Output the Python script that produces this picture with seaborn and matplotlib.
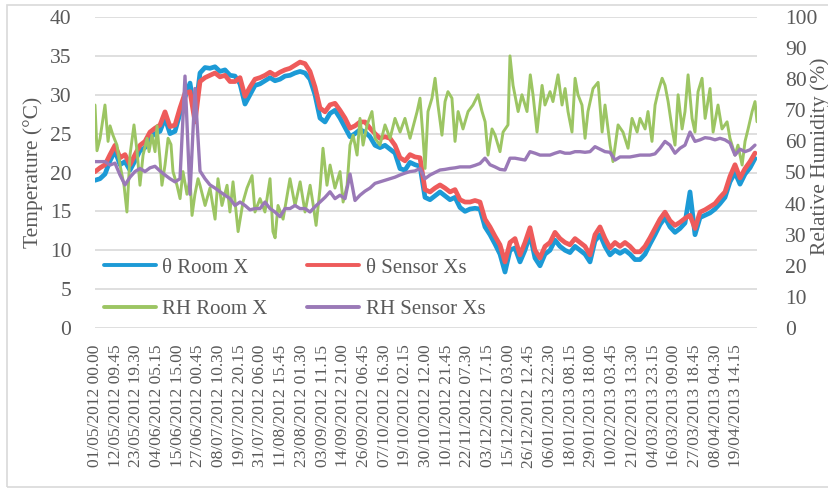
import numpy as np
import pandas as pd
import matplotlib
matplotlib.use("Agg")
import matplotlib.pyplot as plt
import seaborn as sns
from matplotlib.lines import Line2D
from matplotlib.patches import Rectangle

# ---------------- data ----------------
tick_labels = [
    "01/05/2012 00.00", "12/05/2012 09.45", "23/05/2012 19.30", "04/06/2012 05.15",
    "15/06/2012 15.00", "27/06/2012 00.45", "08/07/2012 10.30", "19/07/2012 20.15",
    "31/07/2012 06.00", "11/08/2012 15.45", "23/08/2012 01.30", "03/09/2012 11.15",
    "14/09/2012 21.00", "26/09/2012 06.45", "07/10/2012 16.30", "19/10/2012 02.15",
    "30/10/2012 12.00", "10/11/2012 21.45", "22/11/2012 07.30", "03/12/2012 17.15",
    "15/12/2012 03.00", "26/12/2012 12.45", "06/01/2013 22.30", "18/01/2013 08.15",
    "29/01/2013 18.00", "10/02/2013 03.45", "21/02/2013 13.30", "04/03/2013 23.15",
    "16/03/2013 09.00", "27/03/2013 18.45", "08/04/2013 04.30", "19/04/2013 14.15",
]

# sample times: days since 01/05/2012 00.00 (one reading every ~2.76 days)
days = np.arange(133) * 2.7568

theta_room = [
    19.0, 19.2, 19.8, 21.5, 22.8, 21.0, 21.4, 20.3, 21.5, 22.8,
    23.2, 24.5, 25.0, 25.3, 27.0, 25.0, 25.3, 27.6, 29.7, 31.5,
    27.5, 32.8, 33.5, 33.4, 33.6, 33.0, 33.2, 32.5, 32.4, 31.4,
    28.8, 30.0, 31.2, 31.4, 31.8, 32.2, 31.8, 32.0, 32.4, 32.5,
    32.8, 33.0, 32.8, 32.0, 30.0, 27.0, 26.5, 27.6, 28.0, 27.0,
    25.8, 24.6, 25.0, 25.5, 25.2, 24.6, 23.5, 23.2, 23.5, 23.0,
    22.5, 20.5, 20.3, 21.3, 21.0, 20.8, 16.8, 16.5, 17.0, 17.5,
    17.0, 16.5, 16.8, 15.5, 15.0, 15.3, 15.4, 15.3, 13.0, 12.0,
    10.8, 9.5, 7.2, 10.0, 10.3, 8.5, 10.0, 12.0, 9.0, 8.0,
    9.5, 10.0, 11.3, 10.5, 10.0, 9.7, 10.5, 10.0, 9.5, 8.5,
    11.2, 12.0, 10.5, 9.4, 10.0, 9.6, 10.0, 9.5, 8.8, 8.8,
    9.5, 10.8, 12.0, 13.3, 14.2, 13.0, 12.3, 12.8, 13.5, 17.5,
    12.0, 14.2, 14.5, 14.8, 15.3, 16.0, 16.8, 18.8, 20.0, 18.5,
    19.8, 20.6, 21.8,
]

theta_sensor = [
    20.1, 20.6, 21.0, 22.3, 23.5, 21.9, 22.3, 21.0, 22.3, 23.5,
    24.0, 25.2, 25.7, 26.1, 27.8, 25.9, 26.1, 28.3, 30.2, 30.4,
    26.5, 31.7, 32.2, 32.5, 32.8, 32.3, 32.5, 31.7, 31.7, 32.2,
    29.8, 31.0, 32.0, 32.2, 32.5, 32.9, 32.5, 32.9, 33.2, 33.4,
    33.8, 34.2, 34.0, 33.0, 31.0, 28.3, 27.8, 28.7, 28.9, 28.0,
    27.0, 25.7, 26.0, 26.5, 26.5, 25.7, 25.0, 24.4, 24.6, 24.4,
    23.5, 21.9, 21.5, 22.3, 22.0, 21.9, 17.8, 17.5, 18.0, 18.4,
    18.0, 17.5, 17.8, 16.5, 16.2, 16.2, 16.4, 16.2, 14.0, 13.0,
    11.8, 10.7, 8.5, 11.0, 11.5, 9.4, 11.0, 12.9, 10.0, 9.0,
    10.5, 11.0, 12.3, 11.5, 11.0, 10.7, 11.5, 11.0, 10.5, 9.4,
    12.0, 13.0, 11.5, 10.3, 11.0, 10.5, 11.0, 10.5, 9.8, 9.8,
    10.5, 11.6, 12.8, 14.0, 14.9, 13.8, 13.2, 13.6, 14.1, 14.5,
    12.8, 14.9, 15.2, 15.6, 16.0, 16.8, 17.5, 19.5, 21.0, 19.3,
    20.5, 21.4, 22.5,
]

rh_sensor = [
    53.5, 53.5, 53.5, 52.4, 53, 49.2, 46, 48.5, 50.3, 51.3,
    50.3, 51.5, 52, 50.5, 49.2, 48, 47, 48, 81, 43,
    77, 50.5, 48, 46, 45, 43.8, 42.7, 41.6, 39.4, 40.5,
    39.4, 38, 38.4, 38.4, 40.5, 38.4, 37.3, 35.8, 38.4, 38.4,
    39.4, 38.4, 38.4, 37.3, 39, 40.5, 42, 43.8, 41.6, 42.7,
    41.6, 49.5, 41, 42.7, 44, 45, 46.5, 47, 47.5, 48,
    48.5, 49.2, 49.8, 50.3, 50.5, 51.3, 48, 49.2, 50, 50.8,
    51, 51.3, 51.5, 51.8, 51.8, 51.8, 52.3, 52.9, 54.6, 52.5,
    51.8, 51, 50.8, 54.6, 54.6, 54.3, 54, 56.7, 56.2, 55.6,
    55.6, 55.6, 56.2, 56.7, 56.2, 56.2, 56.7, 56.7, 56.5, 56.7,
    58.3, 57.5, 56.7, 56.5, 54, 55, 55, 55, 55.3, 55.6,
    55.6, 55.6, 56, 57.8, 60, 58.8, 56.2, 57.8, 58.8, 63,
    60, 60.5, 61.2, 61, 60.5, 61, 60.5, 59.5, 55.6, 57.5,
    56.7, 57.3, 58.8,
]

# RH Room X: read at its own (denser) sample times, days since start
rh_room_days = [
    0.0, 1.1, 2.8, 5.5, 7.2, 8.3, 9.9, 12.1, 13.8, 16.0, 17.6, 19.3, 21.5, 23.2,
    24.8, 26.5, 28.7, 29.8, 31.4, 33.1, 34.2, 35.8, 36.9, 38.6, 40.3, 41.9, 43.0,
    45.2, 46.9, 48.5, 50.7, 52.4, 53.5, 55.1, 56.8,
    57.9, 60.7, 63.4, 66.2, 67.8, 70.0, 72.8, 74.4, 76.1, 78.9, 81.6, 83.8, 86.6,
    88.2, 91.0, 93.7, 96.5, 98.1, 99.3, 100.9, 103.7, 107.5, 110.3, 113.1, 115.8,
    118.6,
    120.2, 121.9, 124.1, 125.7, 127.9, 129.6, 132.3, 135.1, 136.8, 139.0, 140.6,
    142.3, 144.5, 146.1, 147.8, 150.0, 152.7, 154.4, 157.1, 159.9, 162.7, 165.4,
    168.2, 170.9, 173.7, 177.6, 179.2,
    180.9, 182.0, 183.6, 185.8, 187.5, 189.1, 191.3, 193.0, 194.6, 196.8, 198.5,
    200.2, 202.9, 205.7, 208.4, 211.2, 213.4, 215.1, 216.7, 218.9, 220.6, 223.3,
    225.0, 227.7, 228.8, 230.5, 233.3, 235.4, 238.2, 240.0,
    241.5, 243.7, 246.5, 248.1, 250.9, 252.5, 255.3, 257.5, 259.2, 260.8, 263.0,
    264.7, 266.3, 268.5, 270.2, 271.8, 274.6, 277.4, 279.6, 281.2, 284.0, 285.6,
    288.4, 291.1, 293.9, 296.1, 298.9,
    300.5, 303.3, 304.9, 307.1, 308.8, 310.5, 312.7, 314.3, 316.0, 318.2, 319.8,
    321.5, 323.7, 325.3, 327.0, 329.2, 330.8, 332.5, 334.7, 336.4, 339.1, 340.8,
    343.5, 345.7, 348.5, 350.1, 352.9, 354.5, 356.8, 358.4, 360.1, 362.3, 363.9,
    365.0,
]
rh_room = [
    71.7, 57, 61, 71.7, 60, 65, 62, 58.8, 52.4, 45.9, 37.3, 55.6, 65.3, 56.7,
    45.9, 55.6, 61, 56.7, 62, 56.7, 65, 54.5, 45.9, 52.4, 61, 59, 50.3,
    45.9, 41.6, 50.3, 43, 48, 36.2, 43, 48,
    45.9, 39.4, 45, 35, 48, 39.4, 45.9, 37.3, 47, 31, 40.5, 45, 49,
    37.3, 41.6, 37.3, 48, 31, 29, 39.4, 35, 48, 39.4, 47, 37.3,
    45.9,
    40, 33, 45, 57.8, 45.9, 52.4, 45, 50.3, 40.5, 45.9, 58.8,
    62, 55.6, 67.4, 58.8, 65.3, 69.6, 61, 58.8, 65.3, 61, 67.4,
    63, 67.4, 61, 69.6, 73.9,
    61, 51.3, 69.6, 73.9, 80.3, 71.7, 62, 72.8, 76, 73.9, 60,
    69.6, 64, 69.6, 71.7, 75, 69.6, 66.3, 55.6, 64, 62, 56.7,
    63, 65.3, 87.5, 78, 69.6, 75, 69.6, 81.4,
    75, 63, 78, 71.7, 76, 72.8, 81.4, 71.7, 77, 69.6, 63,
    80.3, 75, 71.7, 61, 69.6, 77, 79, 63, 71.7, 58.8, 53.5,
    65.3, 63, 57.8, 67.4, 63,
    67.4, 64, 69.6, 60, 71.7, 76, 80.3, 78, 72.8, 64, 58.8,
    75, 64, 69.6, 81.4, 67.4, 63, 76, 80.3, 67.4, 77, 63,
    71.7, 64, 66.3, 61, 55.6, 58.8, 52.4, 60, 64, 69.6, 72.8,
    66.3,
]

series_names = ["θ Room X", "θ Sensor Xs", "RH Room X", "RH Sensor Xs"]
temp_ticks = [0, 5, 10, 15, 20, 25, 30, 35, 40]
rh_ticks = [0, 10, 20, 30, 40, 50, 60, 70, 80, 90, 100]

# ---------------- styling ----------------
C_BLUE = "#1C9AD6"
C_RED = "#EE5B5B"
C_GREEN = "#9CC563"
C_PURPLE = "#9A79B7"
TXT = "#595959"
GRID = "#D9D9D9"

sns.set_theme(style="white")
plt.rcParams["font.family"] = ["Liberation Serif", "DejaVu Serif"]

df = pd.DataFrame({
    "day": days,
    "theta_room": theta_room,
    "theta_sensor": theta_sensor,
    "rh_sensor": rh_sensor,
})
df_rh = pd.DataFrame({"day": rh_room_days, "rh_room": rh_room})

W, H = 829, 488
fig = plt.figure(figsize=(W / 100, H / 100), dpi=100)
ax = fig.add_axes([95 / W, 1 - 328 / H, (757 - 95) / W, (328 - 17) / H])
ax2 = ax.twinx()

sns.lineplot(data=df, x="day", y="theta_room", ax=ax, color=C_BLUE, linewidth=3.4)
sns.lineplot(data=df, x="day", y="theta_sensor", ax=ax, color=C_RED, linewidth=3.4)
sns.lineplot(data=df_rh, x="day", y="rh_room", ax=ax2, color=C_GREEN, linewidth=2.1)
sns.lineplot(data=df, x="day", y="rh_sensor", ax=ax2, color=C_PURPLE, linewidth=2.4)

start = pd.Timestamp(2012, 5, 1)
tick_pos = (pd.to_datetime(tick_labels, format="%d/%m/%Y %H.%M") - start) / pd.Timedelta(days=1)

ax.set_xlim(0, 365)
ax.set_ylim(0, 40)
ax2.set_ylim(0, 100)
ax.set_yticks(temp_ticks)
ax2.set_yticks(rh_ticks)
ax.set_xticks(tick_pos)
ax.set_xticklabels(tick_labels, rotation=90)
ax.set_xlabel("")
ax.set_ylabel("")
ax2.set_ylabel("")

ax.grid(axis="y", color=GRID, linewidth=1.2)
ax.grid(axis="x", visible=False)
ax2.grid(False)
for a in (ax, ax2):
    for s in a.spines.values():
        s.set_visible(False)

ax.tick_params(axis="y", labelsize=15.5, colors=TXT, length=0, pad=17)
ax.tick_params(axis="x", labelsize=12.5, colors=TXT, length=0, pad=12)
ax2.tick_params(axis="y", labelsize=15.5, colors=TXT, length=0, pad=20)

fig.text(33 / W, 1 - 172 / H, "Temperature (°C)", rotation=90, ha="center",
         va="center", fontsize=15.5, color=TXT)
fig.text(820 / W, 1 - 156 / H, "Relative Humidity (%)", rotation=90, ha="center",
         va="center", fontsize=15.5, color=TXT)

handles = [
    Line2D([], [], color=C_BLUE, linewidth=2.8),
    Line2D([], [], color=C_GREEN, linewidth=2.8),
    Line2D([], [], color=C_RED, linewidth=2.8),
    Line2D([], [], color=C_PURPLE, linewidth=2.8),
]
labels = [series_names[0], series_names[2], series_names[1], series_names[3]]
fig.legend(handles, labels, ncol=2, loc="upper left",
           bbox_to_anchor=(104 / W, 1 - 258 / H), frameon=False, fontsize=15,
           labelcolor=TXT, handlelength=2.5, handletextpad=0.3,
           columnspacing=1.9, labelspacing=1.05, borderpad=0, borderaxespad=0)

fig.add_artist(Rectangle((7 / W, 1 - 487 / H), 830 / W, (487 - 5) / H,
                         transform=fig.transFigure, fill=False,
                         edgecolor=GRID, linewidth=1.2))

fig.savefig("out.png", dpi=100)
